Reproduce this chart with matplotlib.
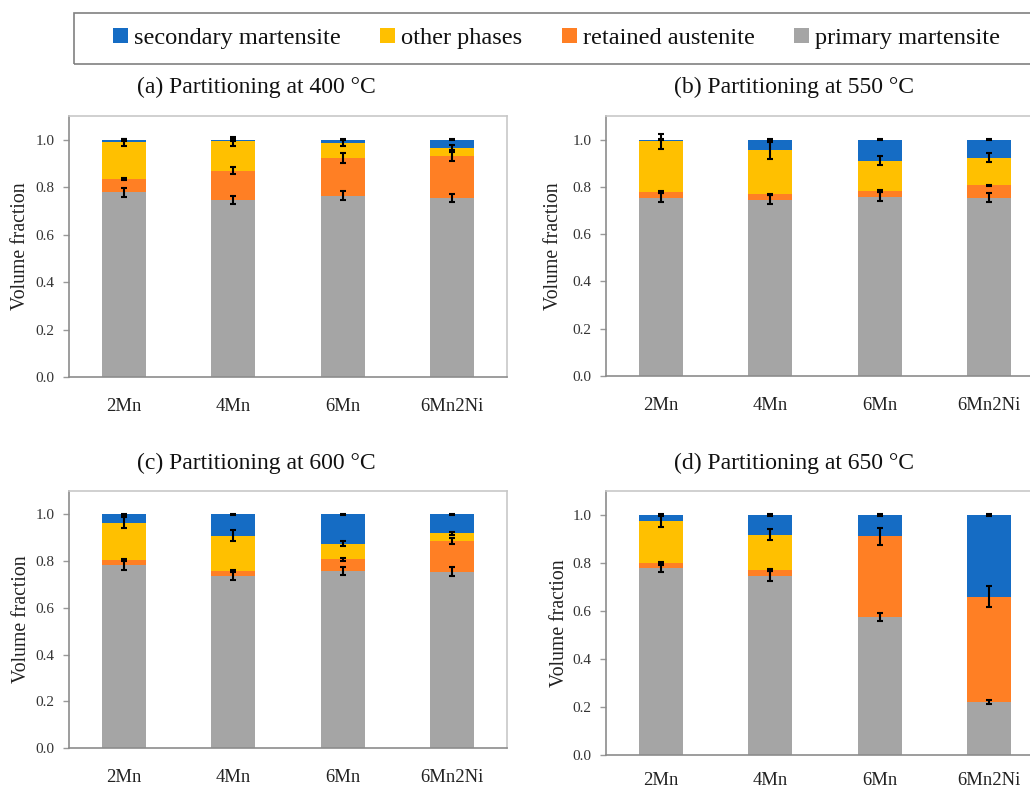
import numpy as np
import matplotlib
matplotlib.use("Agg")
import matplotlib.pyplot as plt
from matplotlib.patches import Patch, Rectangle

plt.rcParams["font.family"] = ["Liberation Serif", "DejaVu Serif"]

W, H = 1030, 789

steels = ["2Mn", "4Mn", "6Mn", "6Mn2Ni"]
temperatures = [400, 550, 600, 650]
panel_tags = ["(a)", "(b)", "(c)", "(d)"]

# Phase fractions, one row per partitioning temperature (400, 550, 600, 650 °C)
primary_martensite = [
    [0.778, 0.746, 0.764, 0.754],
    [0.755, 0.746, 0.759, 0.755],
    [0.783, 0.738, 0.758, 0.754],
    [0.779, 0.745, 0.575, 0.221],
]
retained_austenite = [
    [0.058, 0.123, 0.159, 0.176],
    [0.024, 0.023, 0.023, 0.052],
    [0.021, 0.020, 0.049, 0.132],
    [0.019, 0.024, 0.336, 0.439],
]
other_phases = [
    [0.153, 0.124, 0.063, 0.036],
    [0.214, 0.186, 0.128, 0.117],
    [0.161, 0.150, 0.067, 0.033],
    [0.178, 0.149, 0.000, 0.000],
]
secondary_martensite = [
    [0.011, 0.007, 0.014, 0.034],
    [0.007, 0.045, 0.090, 0.076],
    [0.035, 0.092, 0.126, 0.081],
    [0.024, 0.082, 0.089, 0.340],
]

# Standard deviations of each phase fraction
primary_err = [
    [0.018, 0.018, 0.018, 0.018],
    [0.018, 0.020, 0.020, 0.018],
    [0.020, 0.019, 0.018, 0.019],
    [0.018, 0.021, 0.015, 0.009],
]
retained_err = [
    [0.004, 0.015, 0.019, 0.018],
    [0.003, 0.003, 0.003, 0.003],
    [0.003, 0.003, 0.007, 0.013],
    [0.005, 0.004, 0.036, 0.045],
]
other_err = [
    [0.015, 0.018, 0.012, 0.010],
    [0.032, 0.035, 0.019, 0.020],
    [0.025, 0.023, 0.011, 0.007],
    [0.025, 0.023, 0.000, 0.000],
]
secondary_err = [
    [0.004, 0.004, 0.003, 0.003],
    [0.003, 0.003, 0.003, 0.003],
    [0.003, 0.003, 0.003, 0.003],
    [0.003, 0.003, 0.003, 0.003],
]

phase_names = ["primary martensite", "retained austenite", "other phases", "secondary martensite"]
phase_colors = ["#A5A5A5", "#FF7F24", "#FFC000", "#156CC4"]
phase_values = [primary_martensite, retained_austenite, other_phases, secondary_martensite]
phase_errors = [primary_err, retained_err, other_err, secondary_err]

# plot-area boxes in pixels: left, right, top, bottom
boxes = [
    (69, 507, 116, 377),
    (606, 1044, 116, 376),
    (69, 507, 491, 748),
    (606, 1044, 491, 755),
]
ylabel_x = [-0.110, -0.119, -0.108, -0.107]
xtick_pad = [15, 15, 15, 12]
title_pos = [(256, 87), (794, 87), (256, 463), (794, 463)]

fig = plt.figure(figsize=(W / 100, H / 100), dpi=100)

x = np.arange(len(steels))
for k, (l, r, t, b) in enumerate(boxes):
    ax = fig.add_axes([l / W, 1 - b / H, (r - l) / W, (b - t) / H])
    bottom = np.zeros(len(steels))
    for name, col, vals, errs in zip(phase_names, phase_colors, phase_values, phase_errors):
        v = np.array(vals[k])
        e = np.array(errs[k], dtype=float)
        ax.bar(x, v, 0.4, bottom=bottom, color=col, label=name, zorder=2)
        top = bottom + v
        mask = e > 0
        ax.errorbar(x[mask], top[mask], yerr=e[mask], fmt="none", ecolor="black",
                    elinewidth=1.5, capsize=2.4, capthick=1.5, zorder=3)
        bottom = top

    ax.set_xlim(-0.5, len(steels) - 0.5)
    ax.set_ylim(0, 1.1)
    ax.set_yticks(np.arange(0, 1.01, 0.2))
    ax.set_yticklabels([f"{v:.1f}" for v in np.arange(0, 1.01, 0.2)])
    ax.set_xticks(x)
    ax.set_xticklabels(steels, fontsize=13.4, color="#222222")
    ax.tick_params(axis="x", length=0, pad=xtick_pad[k])
    ax.tick_params(axis="y", direction="out", length=4.3, width=1, color="#999999",
                   labelsize=11, labelcolor="#333333", pad=6)
    for side in ["top", "right"]:
        ax.spines[side].set_color("#C8C8C8")
        ax.spines[side].set_linewidth(1.2)
    for side in ["left", "bottom"]:
        ax.spines[side].set_color("#8C8C8C")
        ax.spines[side].set_linewidth(1.2)
    ax.set_ylabel("Volume fraction", fontsize=14.2, color="#222222", va="center")
    ax.yaxis.set_label_coords(ylabel_x[k], 0.5)

    tx, ty = title_pos[k]
    fig.text(tx / W, 1 - ty / H, f"{panel_tags[k]} Partitioning at {temperatures[k]} °C",
             ha="center", va="center", fontsize=17, color="#111111")

# shared legend across the top
handles = [Patch(facecolor=c, edgecolor="none") for c in phase_colors][::-1]
labels = phase_names[::-1]
fig.legend(handles, labels, loc="center left", bbox_to_anchor=(113 / W, 1 - 38.5 / H),
           ncol=4, frameon=False, fontsize=17.6, handlelength=0.62, handleheight=0.6,
           handletextpad=0.25, columnspacing=1.6, borderpad=0, borderaxespad=0,
           labelcolor="#111111")
fig.patches.append(Rectangle((74 / W, 1 - 64.3 / H), (1040 - 74) / W, 51 / H,
                             transform=fig.transFigure, fill=False,
                             edgecolor="#808080", linewidth=1.2))

fig.savefig("out.png", dpi=100)
